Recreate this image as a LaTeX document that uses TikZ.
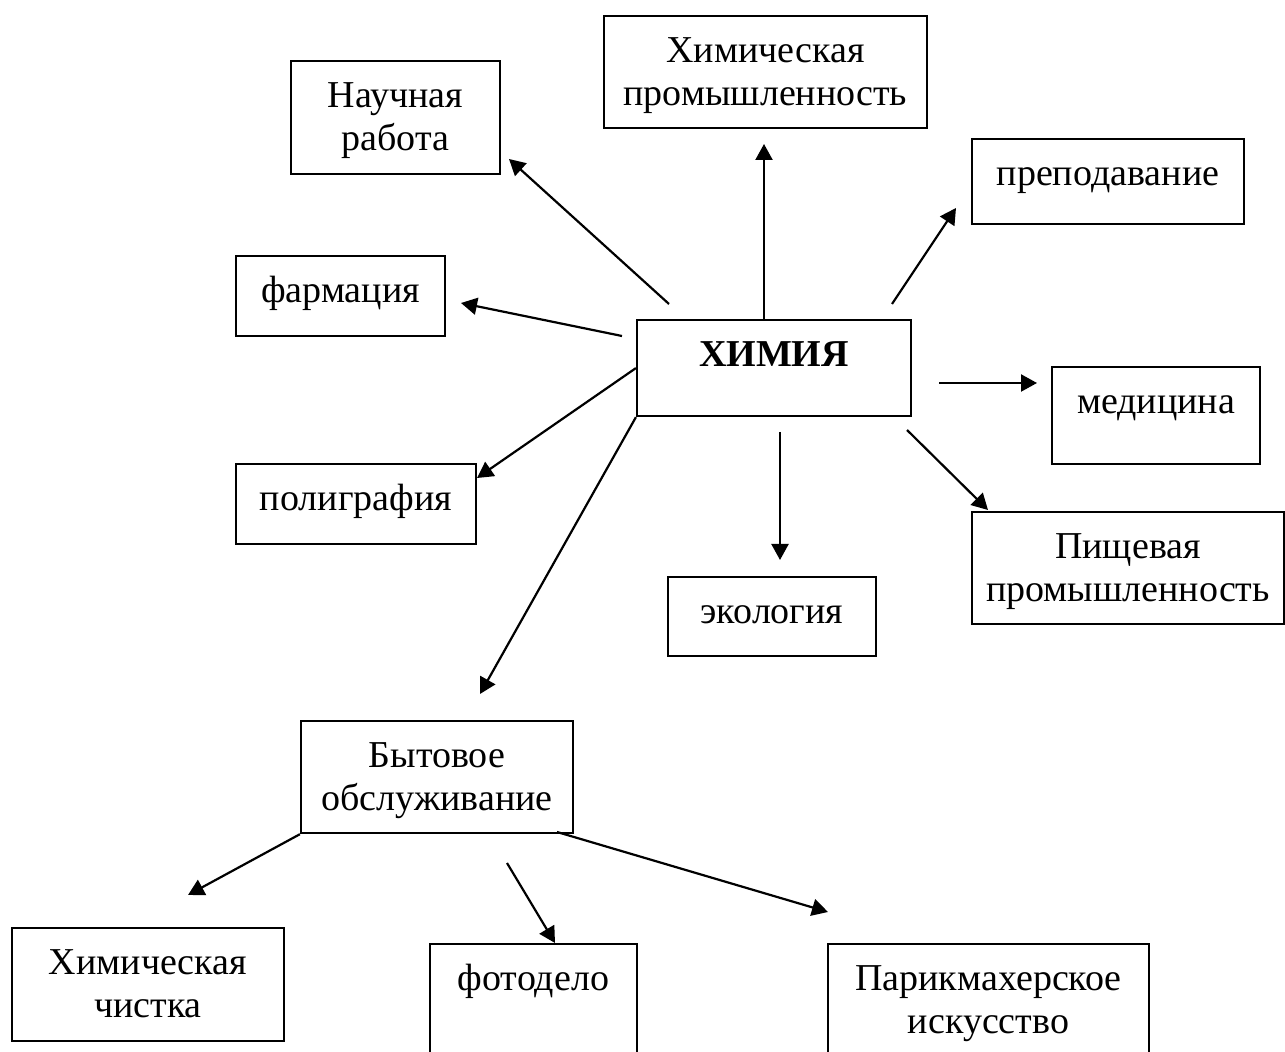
\documentclass[tikz,border=0pt]{standalone}
\usepackage{fontspec}
\setmainfont{Liberation Serif}
\usetikzlibrary{arrows.meta}

\begin{document}
\begin{tikzpicture}[x=0.5pt,y=-0.5pt,
        box/.style={draw,line width=1.1pt,inner sep=0pt,align=center,anchor=north,
            font=\fontsize{19}{21.5}\selectfont,text height=23pt},
        twoline/.style={text height=44.5pt},
        arr/.style={-{Triangle[length=8pt,width=8.5pt]},line width=1.1pt}]
        \useasboundingbox[fill=white] (0,0) rectangle (1285,1052);
        % boxes
        \node[box,twoline,minimum width=104.5pt,minimum height=56.5pt,text depth=12pt] (nauch) at (395.5,60) {Научная\\работа};
        \node[box,twoline,minimum width=161.5pt,minimum height=56pt,text depth=11.5pt] (himprom) at (765.5,15) {Химическая\\промышленность};
        \node[box,minimum width=136pt,minimum height=42.5pt,text depth=19.5pt] (prepod) at (1108,138) {преподавание};
        \node[box,minimum width=104.5pt,minimum height=40pt,text depth=17pt] (farm) at (340.5,255) {фармация};
        \node[box,minimum width=137pt,minimum height=48pt,text depth=25pt,font=\fontsize{19}{21.5}\selectfont\bfseries] (himiya) at (774,319) {ХИМИЯ};
        \node[box,minimum width=104pt,minimum height=48.5pt,text depth=25.5pt] (med) at (1156,366) {медицина};
        \node[box,minimum width=120pt,minimum height=40pt,text depth=17pt] (polig) at (356,463) {полиграфия};
        \node[box,twoline,minimum width=156pt,minimum height=56pt,text depth=11.5pt] (pisch) at (1128,511) {Пищевая\\промышленность};
        \node[box,minimum width=104pt,minimum height=39.5pt,text depth=16.5pt] (ekol) at (772,576) {экология};
        \node[box,twoline,minimum width=136pt,minimum height=56pt,text depth=11.5pt] (byt) at (437,720) {Бытовое\\обслуживание};
        \node[box,twoline,minimum width=136pt,minimum height=56.5pt,text depth=12pt] (chist) at (148,927) {Химическая\\чистка};
        \node[box,minimum width=103.5pt,minimum height=56.5pt,text depth=33.5pt] (foto) at (533.5,943) {фотодело};
        \node[box,twoline,minimum width=160.5pt,minimum height=56.5pt,text depth=12pt] (parik) at (988.5,943) {Парикмахерское\\искусство};
        % free ends of the arrows
        \coordinate (nauch-a) at (669,304);
        \coordinate (nauch-b) at (509,159);
        \coordinate (himprom-b) at (764,144);
        \coordinate (prepod-a) at (892,304);
        \coordinate (prepod-b) at (956,208);
        \coordinate (farm-a) at (622,336);
        \coordinate (farm-b) at (461,303);
        \coordinate (med-a) at (939,383);
        \coordinate (med-b) at (1037,383);
        \coordinate (polig-b) at (477,478);
        \coordinate (pisch-a) at (907,430);
        \coordinate (pisch-b) at (988,510);
        \coordinate (ekol-a) at (780,432);
        \coordinate (ekol-b) at (780,560);
        \coordinate (byt-b) at (480,694);
        \coordinate (chist-b) at (188,895);
        \coordinate (foto-a) at (507,863);
        \coordinate (foto-b) at (555,943);
        \coordinate (parik-a) at (557,832);
        \coordinate (parik-b) at (828,912);
        % arrows
        \draw[arr] (nauch-a) -- (nauch-b);
        \draw[arr] (himiya.north -| himprom-b) -- (himprom-b);
        \draw[arr] (prepod-a) -- (prepod-b);
        \draw[arr] (farm-a) -- (farm-b);
        \draw[arr] (med-a) -- (med-b);
        \draw[arr] (himiya.west) -- (polig-b);
        \draw[arr] (pisch-a) -- (pisch-b);
        \draw[arr] (ekol-a) -- (ekol-b);
        \draw[arr] (himiya.south west) -- (byt-b);
        \draw[arr] (byt.south west) -- (chist-b);
        \draw[arr] (foto-a) -- (foto-b);
        \draw[arr] (parik-a) -- (parik-b);
    \end{tikzpicture}
\end{document}
